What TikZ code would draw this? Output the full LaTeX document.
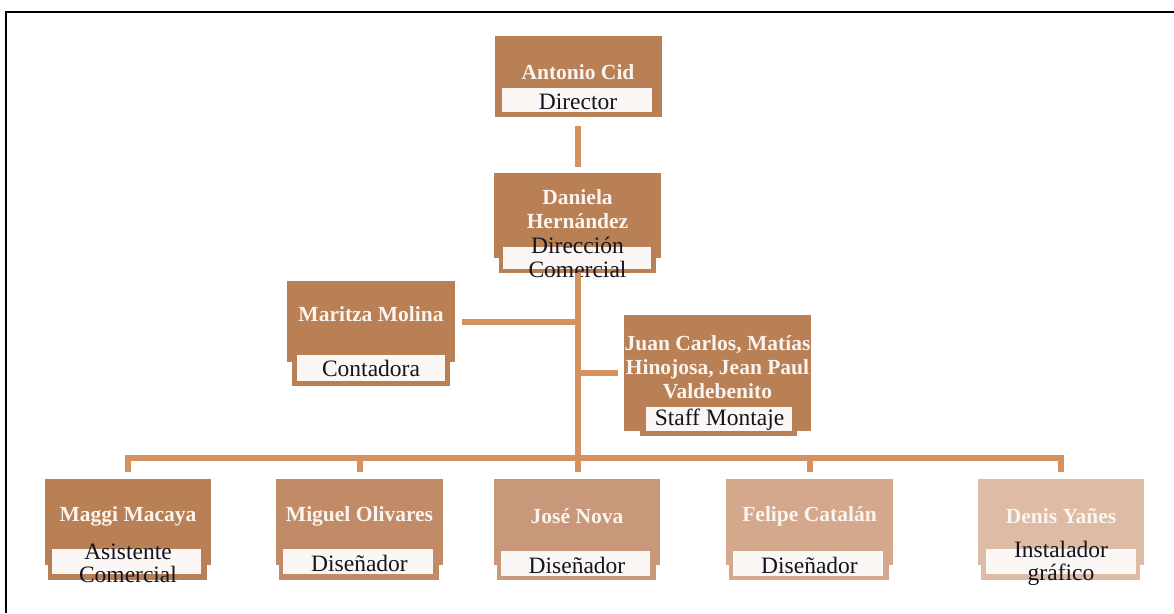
\documentclass[tikz,border=0pt]{standalone}
\usepackage{fontspec}
\setmainfont{Liberation Serif}
\definecolor{toneA}{HTML}{B97F55}
\definecolor{toneB}{HTML}{C18B67}
\definecolor{toneC}{HTML}{C9987A}
\definecolor{toneD}{HTML}{D3A88D}
\definecolor{toneE}{HTML}{DDBBA4}
\definecolor{linkcol}{HTML}{D3925F}
\definecolor{bandcol}{HTML}{FBF7F4}
\definecolor{namecol}{HTML}{FBF4EF}
\definecolor{rolecol}{HTML}{141420}
\tikzset{
  card/.style={inner sep=0pt, outer sep=0pt, anchor=north west},
  band/.style={card, fill=bandcol},
  nametext/.style={text=namecol, font=\bfseries\fontsize{21.5}{24}\selectfont, align=center, inner sep=0pt},
  roletext/.style={text=rolecol, font=\fontsize{23.5}{23.5}\selectfont, align=center, inner sep=0pt, yshift=-1.5pt},
  linkline/.style={draw=linkcol, line width=6pt},
}
\begin{document}
\begin{tikzpicture}[x=1pt,y=-1pt]
\useasboundingbox (0,0) rectangle (1174,613);
\fill[white] (0,0) rectangle (1174,613);
% page frame
\draw[line width=2pt, black] (6,613) -- (6,12) -- (1174,12);

% ---- Director
\node[card, fill=toneA, minimum width=167pt, minimum height=81pt] (antonio) at (495,36) {};
\node[band, minimum width=150pt, minimum height=24pt] (antonio-b) at (502,88) {};
\node[nametext] (antonio-n) at (578,72) {Antonio Cid};
\node[roletext] (antonio-r) at (578,100) {Director};

% ---- Dirección Comercial
\node[card, fill=toneA, minimum width=157pt, minimum height=29pt] (daniela-f) at (499,244) {};
\node[card, fill=toneA, minimum width=167pt, minimum height=85pt] (daniela) at (494,173) {};
\node[band, minimum width=148pt, minimum height=22pt] (daniela-b) at (503,247) {};
\node[nametext] (daniela-n) at (577.5,209) {Daniela\\Hernández};
\node[roletext] (daniela-r) at (577.5,256) {Dirección\\Comercial};

% ---- Contadora
\node[card, fill=toneA, minimum width=158pt, minimum height=38pt] (maritza-f) at (292,348) {};
\node[card, fill=toneA, minimum width=168pt, minimum height=81pt] (maritza) at (287,281) {};
\node[band, minimum width=148pt, minimum height=26pt] (maritza-b) at (297,355) {};
\node[nametext] (maritza-n) at (371,314) {Maritza Molina};
\node[roletext] (maritza-r) at (371,367) {Contadora};

% ---- Staff Montaje
\node[card, fill=toneA, minimum width=157pt, minimum height=34pt] (staff-f) at (640,402) {};
\node[card, fill=toneA, minimum width=187pt, minimum height=116pt] (staff) at (624,315) {};
\node[band, minimum width=146pt, minimum height=24pt] (staff-b) at (646,407) {};
\node[nametext] (staff-n) at (717.5,367) {Juan Carlos, Matías\\Hinojosa, Jean Paul\\Valdebenito};
\node[roletext] (staff-r) at (719.5,418) {Staff Montaje};

% ---- bottom row
\node[card, fill=toneA, minimum width=159pt, minimum height=35pt] (maggi-f) at (48,545) {};
\node[card, fill=toneA, minimum width=166pt, minimum height=86pt] (maggi) at (45,479) {};
\node[band, minimum width=149pt, minimum height=25pt] (maggi-b) at (52,549) {};
\node[nametext] (maggi-n) at (128,516) {Maggi Macaya};
\node[roletext] (maggi-r) at (128,562) {Asistente\\Comercial};

\node[card, fill=toneB, minimum width=160pt, minimum height=35pt] (miguel-f) at (279,545) {};
\node[card, fill=toneB, minimum width=167pt, minimum height=86pt] (miguel) at (276,479) {};
\node[band, minimum width=150pt, minimum height=25pt] (miguel-b) at (283,549) {};
\node[nametext] (miguel-n) at (359.5,516) {Miguel Olivares};
\node[roletext] (miguel-r) at (359.5,562) {Diseñador};

\node[card, fill=toneC, minimum width=159pt, minimum height=35pt] (jose-f) at (497,545) {};
\node[card, fill=toneC, minimum width=166pt, minimum height=86pt] (jose) at (494,479) {};
\node[band, minimum width=149pt, minimum height=25pt] (jose-b) at (501,551) {};
\node[nametext] (jose-n) at (577,516) {José Nova};
\node[roletext] (jose-r) at (577,564) {Diseñador};

\node[card, fill=toneD, minimum width=160pt, minimum height=35pt] (felipe-f) at (729,545) {};
\node[card, fill=toneD, minimum width=167pt, minimum height=86pt] (felipe) at (726,479) {};
\node[band, minimum width=150pt, minimum height=25pt] (felipe-b) at (733,551) {};
\node[nametext] (felipe-n) at (809.5,516) {Felipe Catalán};
\node[roletext] (felipe-r) at (809.5,564) {Diseñador};

\node[card, fill=toneE, minimum width=159pt, minimum height=35pt] (denis-f) at (981,545) {};
\node[card, fill=toneE, minimum width=166pt, minimum height=86pt] (denis) at (978,479) {};
\node[band, minimum width=150pt, minimum height=25pt] (denis-b) at (986,549) {};
\node[nametext] (denis-n) at (1061,516) {Denis Yañes};
\node[roletext] (denis-r) at (1061,562) {Instalador\\gráfico};

% ---- connectors
\coordinate (bus) at (578,458);
\draw[linkline, shorten <=9pt, shorten >=6pt] (antonio.south -| bus) -- (daniela.north -| bus);
\draw[linkline] (daniela-f.south -| bus) -- (bus);
\draw[linkline, shorten <=7pt] (maritza.east) -- (maritza.east -| bus);
\draw[linkline, shorten >=6pt] (staff.west -| bus) -- (staff.west);
\draw[linkline, miter limit=10, shorten <=7pt, shorten >=7pt]
  (maggi.north) -- (maggi.north |- bus) -- (denis.north |- bus) -- (denis.north);
\draw[linkline, shorten >=7pt] (miguel.north |- bus) -- (miguel.north);
\draw[linkline, shorten >=7pt] (bus) -- (jose.north -| bus);
\draw[linkline, shorten >=7pt] (felipe.north |- bus) -- (felipe.north);
\end{tikzpicture}
\end{document}
